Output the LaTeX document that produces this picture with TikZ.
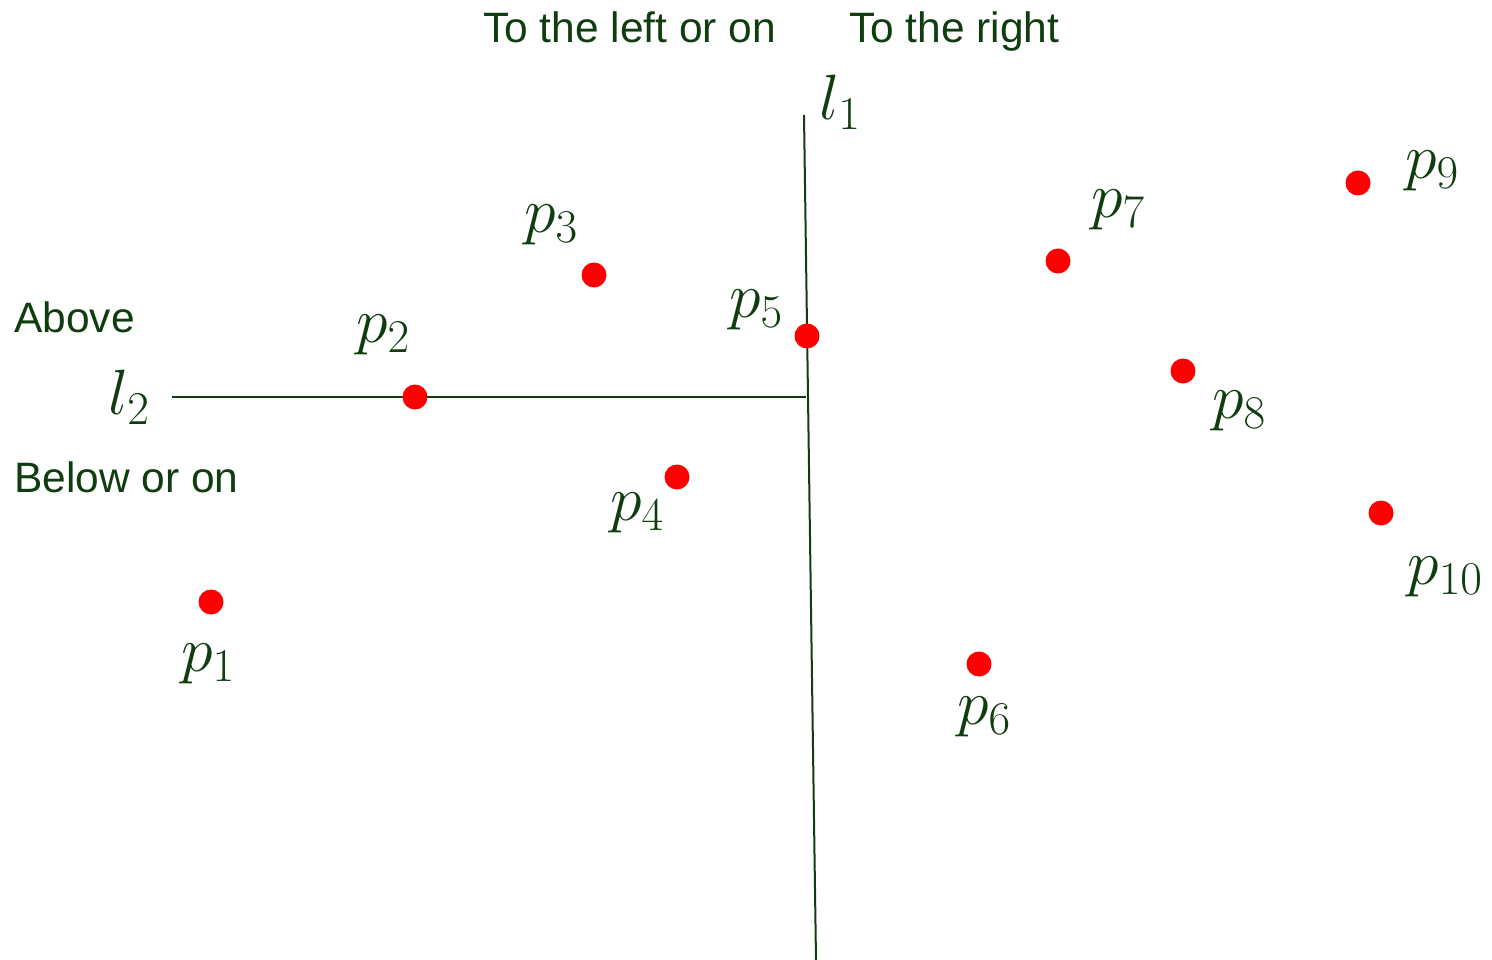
\RequirePackage{fix-cm}
\documentclass[tikz,border=0pt]{standalone}
\usepackage{fontspec}
\setsansfont{Liberation Sans}
\DeclareMathSizes{64}{64}{47}{36}
\definecolor{dgreen}{RGB}{16,61,16}
\definecolor{dotred}{RGB}{255,0,0}
\tikzset{
  dot/.style={circle,fill=dotred,draw=none,minimum size=25pt,inner sep=0pt},
  lab/.style={text=dgreen,inner sep=0pt,font=\fontsize{64}{64}\selectfont},
  word/.style={text=dgreen,inner sep=0pt,anchor=base west,font=\sffamily\fontsize{42.5}{48}\selectfont},
  ln/.style={draw=dgreen,line width=2pt}
}
\begin{document}
\begin{tikzpicture}[x=1pt,y=-1pt]
\useasboundingbox (0,0) rectangle (1492,960);
% lines
\coordinate (l1top) at (804,115);
\coordinate (l1bot) at (816,960);
\coordinate (l2left) at (172,397);
\coordinate (l2right) at (806,397);
\draw[ln] (l1top) -- (l1bot);
\draw[ln] (l2left) -- (l2right);
% dots
\node[dot] (p1) at (211,602) {};
\node[dot] (p2) at (415,397) {};
\node[dot] (p3) at (594,275) {};
\node[dot] (p4) at (677,477) {};
\node[dot] (p5) at (807,336) {};
\node[dot] (p6) at (979,664) {};
\node[dot] (p7) at (1058,261) {};
\node[dot] (p8) at (1183,371) {};
\node[dot] (p9) at (1358,183) {};
\node[dot] (p10) at (1381,513) {};
% point labels
\node[lab] (t1) at (208,664) {$p_1$};
\node[lab] (t2) at (383,335) {$p_2$};
\node[lab] (t3) at (551,225) {$p_3$};
\node[lab] (t4) at (637,513) {$p_4$};
\node[lab] (t5) at (756,310) {$p_5$};
\node[lab] (t6) at (984,717) {$p_6$};
\node[lab] (t7) at (1118,210) {$p_7$};
\node[lab] (t8) at (1239,411) {$p_8$};
\node[lab] (t9) at (1432,171) {$p_9$};
\node[lab] (t10) at (1445,577) {$p_{10}$};
\node[lab] (tl1) at (840,102) {$l_1$};
\node[lab] (tl2) at (129,397) {$l_2$};
% words
\node[word] (left) at (483,43) {To the left or on};
\node[word] (right) at (849,43) {To the right};
\node[word] (above) at (14,332) {Above};
\node[word] (below) at (14,492) {Below or on};
\end{tikzpicture}
\end{document}
